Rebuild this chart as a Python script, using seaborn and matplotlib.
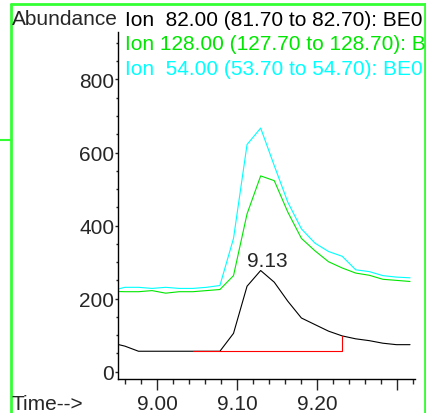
import pandas as pd
import matplotlib.pyplot as plt
from matplotlib.lines import Line2D
import seaborn as sns

# retention times (min) and ion abundances
times = [8.9426, 8.9596, 8.9766, 8.9935, 9.0105, 9.0274, 9.0444, 9.0614,
         9.0783, 9.0953, 9.1122, 9.1292, 9.1462, 9.1631, 9.1801, 9.1970,
         9.2140, 9.2310, 9.2479, 9.2649, 9.2818, 9.2988, 9.3158]
ion_82 = [79, 70, 56, 56, 56, 56, 56, 56, 56, 105, 234, 277, 245, 193,
          147, 129, 111, 98, 90, 85, 78, 74, 74]
ion_128 = [220, 219, 219, 222, 215, 219, 219, 222, 225, 263, 432, 536,
           523, 437, 365, 331, 301, 284, 270, 264, 253, 250, 247]
ion_54 = [222, 231, 231, 228, 231, 228, 228, 231, 236, 365, 622, 667,
          564, 464, 391, 352, 329, 316, 279, 274, 263, 259, 257]

# integration baseline of the 9.13 peak
base_t = [9.0444, 9.2310, 9.2310]
base_v = [56, 56, 98]

ion_labels = ["Ion  82.00 (81.70 to 82.70): BE0",
              "Ion 128.00 (127.70 to 128.70): B",
              "Ion  54.00 (53.70 to 54.70): BE0"]
ion_colors = ["black", "#00e600", "#00ffff"]

df = pd.DataFrame({"time": times, "82": ion_82, "128": ion_128, "54": ion_54})
long = df.melt(id_vars="time", var_name="ion", value_name="abundance")

sns.set_style("white")
plt.rcParams["font.family"] = ["Liberation Sans", "DejaVu Sans"]
fs = 15

fig = plt.figure(figsize=(4.27, 4.14), dpi=100)
ax = fig.add_axes([118 / 427, 1 - 380 / 414, 297 / 427, 347 / 414])

sns.lineplot(data=long, x="time", y="abundance", hue="ion",
             hue_order=["54", "128", "82"],
             palette={"82": ion_colors[0], "128": ion_colors[1], "54": ion_colors[2]},
             linewidth=0.8, legend=False, ax=ax)
ax.plot(base_t, base_v, color="red", linewidth=0.8)

ax.text(9.137, 290, "9.13", ha="center", va="baseline", fontsize=fs)

ax.set_xlim(8.951, 9.322)
ax.set_ylim(-20, 930)
ax.set_xlabel("")
ax.set_ylabel("")

ax.set_xticks([9.0, 9.1, 9.2, 9.3])
ax.set_xticklabels(["9.00", "9.10", "9.20", ""])
ax.set_xticks([8.96, 8.98, 9.02, 9.04, 9.06, 9.08, 9.12, 9.14, 9.16, 9.18,
               9.22, 9.24, 9.26, 9.28, 9.32], minor=True)
ax.set_yticks([0, 200, 400, 600, 800])
ax.set_yticks([50, 100, 150, 250, 300, 350, 450, 500, 550, 650, 700, 750,
               850, 900], minor=True)
ax.tick_params(axis="x", which="major", length=8, width=1, pad=3, labelsize=fs, direction="out")
ax.tick_params(axis="x", which="minor", length=3.6, width=1, direction="out")
ax.tick_params(axis="y", which="major", length=2.2, width=1, pad=0.5, labelsize=fs, direction="out")
ax.tick_params(axis="y", which="minor", length=1.5, width=1, direction="out")
ax.tick_params(bottom=True, left=True, which="both")

for s in ["top", "right"]:
    ax.spines[s].set_visible(False)
for s in ["left", "bottom"]:
    ax.spines[s].set_linewidth(1)
    ax.spines[s].set_color("black")

# header texts
fig.text(12 / 427, 1 - 25 / 414, "Abundance", fontsize=fs, va="baseline", ha="left")
for i, (lab, col) in enumerate(zip(ion_labels, ion_colors)):
    fig.text(125 / 427, 1 - (26 + 24.5 * i) / 414, lab, color=col,
             fontsize=fs, va="baseline", ha="left")
fig.text(12 / 427, 1 - 410 / 414, "Time-->", fontsize=fs, va="baseline", ha="left")

# green window frame
green = "#33ff33"
fig.add_artist(Line2D([11.5 / 427, 11.5 / 427], [0, 1 - 4.5 / 414],
                      color=green, linewidth=2, transform=fig.transFigure))
fig.add_artist(Line2D([11.5 / 427, 426 / 427], [1 - 4.5 / 414, 1 - 4.5 / 414],
                      color=green, linewidth=2, transform=fig.transFigure))
fig.add_artist(Line2D([425.5 / 427, 425.5 / 427], [0, 1 - 4.5 / 414],
                      color=green, linewidth=2, transform=fig.transFigure))
fig.add_artist(Line2D([0, 11 / 427], [1 - 140.7 / 414, 1 - 140.7 / 414],
                      color=green, linewidth=1.5, transform=fig.transFigure))

fig.savefig("out.png", dpi=100)
